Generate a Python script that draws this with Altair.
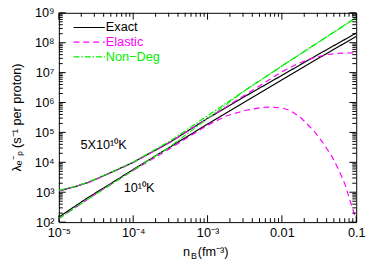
import altair as alt
import pandas as pd
import math

W, H = 304, 214

# ---- data ----
grid_x = [1e-5, 1.58e-5, 2.5e-5, 4e-5, 6.3e-5, 1e-4, 3.16e-4, 1e-3, 3.16e-3, 1e-2, 3.16e-2, 0.1]
exact_5e10 = [1.12e3, 1.48e3, 2.14e3, 3.55e3, 5.9e3, 1.0e4, 4.8e4, 2.95e5, 1.58e6, 8.1e6, 4.2e7, 2.1e8]
exact_1e10 = [1.48e2, 3.16e2, 6.8e2, 1.38e3, 2.8e3, 5.75e3, 3.3e4, 1.9e5, 1.05e6, 5.75e6, 3.1e7, 1.62e8]
nondeg_5e10 = [1.15e3, 1.51e3, 2.19e3, 3.63e3, 6.0e3, 1.02e4, 5.2e4, 3.6e5, 2.5e6, 1.66e7, 1.07e8, 6.9e8]
nondeg_1e10 = [1.32e2, 2.8e2, 6.0e2, 1.26e3, 2.6e3, 5.4e3, 3.4e4, 2.9e5, 2.5e6, 1.66e7, 1.07e8, 6.9e8]

elastic_5e10_x = [1e-5, 2.5e-5, 6.3e-5, 1e-4, 3.16e-4, 1e-3, 3.16e-3, 1e-2, 1.58e-2, 2.5e-2, 4e-2, 6.3e-2, 0.1]
elastic_5e10 = [1.1e3, 2.1e3, 5.75e3, 9.8e3, 4.7e4, 2.9e5, 1.74e6, 1.07e7, 1.9e7, 3.0e7, 4.0e7, 4.5e7, 4.6e7]

elastic_1e10_x = [1e-5, 3.16e-5, 1e-4, 3.16e-4, 1e-3, 1.78e-3, 3.16e-3, 5.0e-3, 6.3e-3, 1e-2, 1.3e-2,
                  1.78e-2, 2.15e-2, 2.8e-2, 3.57e-2, 4.7e-2, 5.9e-2, 7.1e-2, 8.0e-2, 9.5e-2]
elastic_1e10 = [1.32e2, 8.9e2, 5.4e3, 2.95e4, 1.74e5, 3.55e5, 5.4e5, 6.6e5, 7.1e5, 6.6e5, 5.4e5,
                3.16e5, 2.0e5, 1.0e5, 4.5e4, 1.58e4, 5.2e3, 1.78e3, 6.8e2, 1.75e2]

kinds = ["Exact", "Elastic", "Non\u2212Deg"]
colors = ["#000000", "#ff00ff", "#00ee00"]
dashes = [[1, 0], [6, 4], [6, 2, 1.5, 2]]

y_major = [1e2, 1e3, 1e4, 1e5, 1e6, 1e7, 1e8, 1e9]
y_labels = ["10\u00b2", "10\u00b3", "10\u2074", "10\u2075", "10\u2076", "10\u2077", "10\u2078", "10\u2079"]
x_major = [1e-5, 1e-4, 1e-3, 1e-2, 1e-1]
x_labels = ["10\u207b\u2075", "10\u207b\u2074", "10\u207b\u00b3", "0.01", "0.1"]
minor_k = [2, 3, 4, 5, 6, 7, 8, 9]
y_minor = [k * 10.0 ** n for n in range(2, 9) for k in minor_k]
x_minor = [k * 10.0 ** n for n in range(-5, -1) for k in minor_k]

annot_x = [4.0e-5, 1.2e-4]
annot_y = [3.8e4, 1.4e3]
annot_t = ["5X10\u00b9\u2070K", "10\u00b9\u2070K"]

# ---- build tables ----
rows = []
def add(curve, kind, xs, ys):
    for i, (a, b) in enumerate(zip(xs, ys)):
        rows.append({"curve": curve, "kind": kind, "nb": a, "rate": b, "i": i})

add("exact_hi", kinds[0], grid_x, exact_5e10)
add("exact_lo", kinds[0], grid_x, exact_1e10)
add("el_hi", kinds[1], elastic_5e10_x, elastic_5e10)
add("el_lo", kinds[1], elastic_1e10_x, elastic_1e10)
add("nd_hi", kinds[2], grid_x, nondeg_5e10)
add("nd_lo", kinds[2], grid_x, nondeg_1e10)
df = pd.DataFrame(rows)
one = pd.DataFrame({"a": [0]})

def lab_expr(vals, labs):
    parts = []
    for v, l in zip(vals, labs):
        parts.append(f"abs(log(datum.value)/LN10 - ({math.log10(v):.3f})) < 0.01 ? '{l}'")
    return " : ".join(parts) + " : ''"

xscale = alt.Scale(type="log", domain=[1e-5, 0.1], nice=False)
yscale = alt.Scale(type="log", domain=[1e2, 1e9], nice=False)
FONT = "Liberation Sans"

xaxis = alt.Axis(values=x_major, labelExpr=lab_expr(x_major, x_labels), ticks=False, domain=False,
                 grid=False, title=None, labelFont=FONT, labelFontSize=13, labelColor="black",
                 labelPadding=5, labelFlush=False, labelOverlap=False)
yaxis = alt.Axis(values=y_major, labelExpr=lab_expr(y_major, y_labels), ticks=False, domain=False,
                 grid=False, title=None, labelFont=FONT, labelFontSize=13, labelColor="black",
                 labelPadding=5, labelOverlap=False)

def X(f):
    return alt.X(f, scale=xscale, axis=xaxis)

def Y(f):
    return alt.Y(f, scale=yscale, axis=yaxis)

base = alt.Chart(df)
layers = []
for k, c, d in zip(kinds, colors, dashes):
    layers.append(
        base.transform_filter(alt.datum.kind == k).mark_line(strokeWidth=1.2, clip=True, strokeDash=d, color=c)
        .encode(x=X("nb:Q"), y=Y("rate:Q"), detail="curve:N", order="i:Q")
    )

# tick marks (inward, all four sides)
ydf = pd.DataFrame({"nb": [1e-5] * (len(y_major) + len(y_minor)), "rate": y_major + y_minor,
                    "L": [7] * len(y_major) + [4] * len(y_minor)})
xdf = pd.DataFrame({"nb": x_major + x_minor, "rate": [1e2] * (len(x_major) + len(x_minor)),
                    "L": [7] * len(x_major) + [4] * len(x_minor)})
for L in (7, 4):
    yd = alt.Chart(ydf[ydf.L == L])
    xd = alt.Chart(xdf[xdf.L == L])
    layers.append(yd.mark_rule(color="black", strokeWidth=1).encode(
        y=Y("rate:Q"), x=alt.value(0), x2=alt.value(L)))
    layers.append(yd.mark_rule(color="black", strokeWidth=1).encode(
        y=Y("rate:Q"), x=alt.value(W), x2=alt.value(W - L)))
    layers.append(xd.mark_rule(color="black", strokeWidth=1).encode(
        x=X("nb:Q"), y=alt.value(H), y2=alt.value(H - L)))
    layers.append(xd.mark_rule(color="black", strokeWidth=1).encode(
        x=X("nb:Q"), y=alt.value(0), y2=alt.value(L)))

# annotations
adf = pd.DataFrame({"nb": annot_x, "rate": annot_y, "t": annot_t})
layers.append(alt.Chart(adf).mark_text(font=FONT, fontSize=13, color="black", align="center", baseline="middle")
              .encode(x=X("nb:Q"), y=Y("rate:Q"), text="t:N"))

# legend
for j, (k, c, d) in enumerate(zip(kinds, colors, dashes)):
    yy = 15 + 15 * j
    layers.append(alt.Chart(one).mark_rule(color=c, strokeDash=d, strokeWidth=1.2).encode(
        x=alt.value(15), x2=alt.value(47), y=alt.value(yy)))
    layers.append(alt.Chart(one).mark_text(text=k, font=FONT, fontSize=13, color=c, align="left",
                                           baseline="middle").encode(x=alt.value(48), y=alt.value(yy)))

# axis titles
def txt(t, x, y, size=13, angle=0, align="left"):
    return alt.Chart(one).mark_text(text=t, font=FONT, fontSize=size, color="black", align=align,
                                    baseline="middle", angle=angle).encode(x=alt.value(x), y=alt.value(y))

layers.append(txt("n", 127, 245))
layers.append(txt("B", 135, 249, size=9))
layers.append(txt("(fm\u207b\u00b3)", 142, 245))
layers.append(txt("\u03bb\u2091\u207b\u209a (s\u207b\u00b9  per proton)", -43, 107, angle=270, align="center"))

chart = alt.layer(*layers).properties(
    width=W, height=H,
    autosize=alt.AutoSizeParams(type="none"),
    padding={"left": 52, "top": 2, "right": 10, "bottom": 45},
).configure_view(stroke="black", strokeWidth=1)

chart.save("out.html", embed_options={"renderer": "svg", "actions": False})
